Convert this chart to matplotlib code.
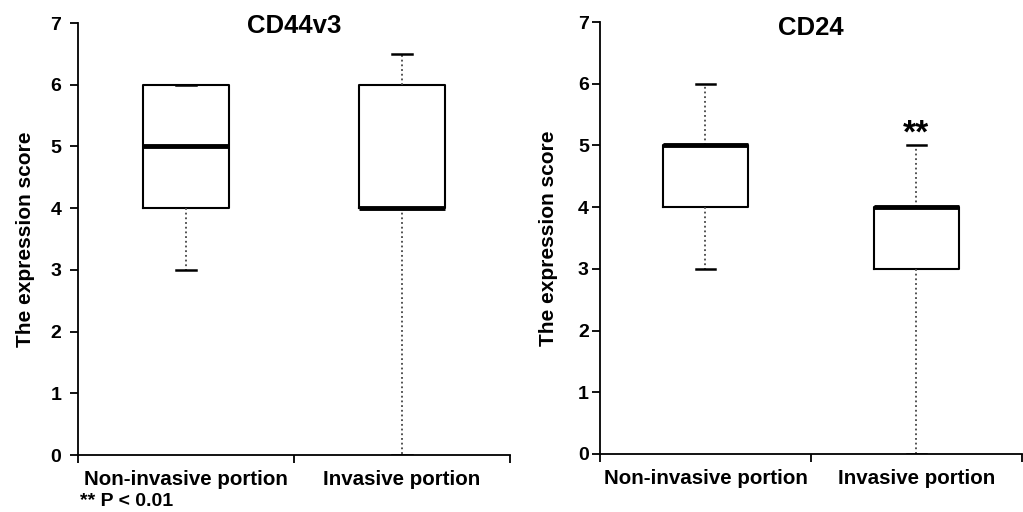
import matplotlib.pyplot as plt
from matplotlib.ticker import FixedLocator

# box plot summaries (whisker low, q1, median, q3, whisker high)
groups = ['Non-invasive portion', 'Invasive portion']
titles = ['CD44v3', 'CD24']

cd44_low = [3, 0]
cd44_q1 = [4, 4]
cd44_med = [5, 4]
cd44_q3 = [6, 6]
cd44_high = [6, 6.5]

cd24_low = [3, 0]
cd24_q1 = [4, 3]
cd24_med = [5, 4]
cd24_q3 = [5, 4]
cd24_high = [6, 5]

y_ticks = [0, 1, 2, 3, 4, 5, 6, 7]

plt.rcParams['font.family'] = ['Liberation Sans', 'DejaVu Sans']
plt.rcParams['font.weight'] = 'bold'


def make_stats(lo, q1, med, q3, hi):
    stats = []
    for i in range(len(lo)):
        stats.append({'whislo': lo[i], 'q1': q1[i], 'med': med[i],
                      'q3': q3[i], 'whishi': hi[i], 'fliers': []})
    return stats


def draw_panel(ax, stats, title, title_y, tick_pad):
    ax.bxp(stats, positions=[0.5, 1.5], widths=0.4, showfliers=False,
           boxprops=dict(color='black', linewidth=1.5),
           medianprops=dict(color='black', linewidth=3.5),
           whiskerprops=dict(color='#444444', linewidth=1.3, linestyle=(0, (1, 1.6))),
           capprops=dict(color='black', linewidth=1.8),
           capwidths=0.09)
    ax.set_xlim(0, 2)
    ax.set_ylim(0, 7)
    ax.spines['top'].set_visible(False)
    ax.spines['right'].set_visible(False)
    ax.spines['left'].set_linewidth(1.3)
    ax.spines['bottom'].set_linewidth(1.3)
    ax.set_yticks(y_ticks)
    ax.set_yticklabels([str(t) for t in y_ticks], fontsize=14, fontweight='bold')
    ax.tick_params(axis='y', length=6, width=1.3, pad=tick_pad)
    ax.set_xticks([0.5, 1.5])
    ax.set_xticklabels(groups, fontsize=14.8, fontweight='bold')
    ax.tick_params(axis='x', which='major', length=0, pad=11)
    ax.xaxis.set_minor_locator(FixedLocator([0, 1, 2]))
    ax.tick_params(axis='x', which='minor', length=6, width=1.3)
    ax.set_ylabel('The expression score', fontsize=15, fontweight='bold')
    ax.yaxis.set_label_coords(-0.099, 0.5)
    ax.text(0.5, title_y, title, transform=ax.transAxes, ha='center', va='center',
            fontsize=18.5, fontweight='bold')


fig = plt.figure(figsize=(10.23, 5.12), dpi=100)
ax1 = fig.add_axes([0.0762, 0.1113, 0.4223, 0.8437])
ax2 = fig.add_axes([0.5865, 0.1133, 0.4125, 0.8437])

draw_panel(ax1, make_stats(cd44_low, cd44_q1, cd44_med, cd44_q3, cd44_high), titles[0],
           0.992, 6)
draw_panel(ax2, make_stats(cd24_low, cd24_q1, cd24_med, cd24_q3, cd24_high), titles[1],
           0.985, 2)

ax2.text(1.5, 5.18, '**', ha='center', va='center', fontsize=24, fontweight='bold')
fig.text(80 / 1023, 1 - 501 / 512, '** P < 0.01', ha='left', va='center',
         fontsize=14, fontweight='bold')

fig.savefig('out.png', dpi=100)
